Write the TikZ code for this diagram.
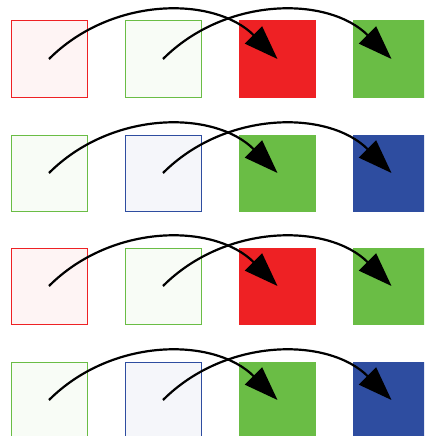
\documentclass[tikz,border=0pt]{standalone}
\usetikzlibrary{arrows.meta}
\definecolor{cred}{HTML}{EE2124}
\definecolor{cgreen}{HTML}{6ABD45}
\definecolor{cblue}{HTML}{2E4DA0}
\tikzset{
  box/.style={minimum size=76pt,inner sep=0pt,line width=1pt,draw=#1,fill=#1!5},
  solidbox/.style={minimum size=77pt,inner sep=0pt,fill=#1},
  jump/.style={line width=2.2pt,bend left=45,-{Triangle[length=34pt,width=24pt]}},
}
\begin{document}
\begin{tikzpicture}[x=1pt,y=-1pt]
\useasboundingbox (0,0) rectangle (424,436);
\clip (0,0) rectangle (424,436);
% row 1
\node[box=cred] (a1) at (49,59) {};
\node[box=cgreen] (b1) at (163,59) {};
\node[solidbox=cred] (c1) at (277.5,59) {};
\node[solidbox=cgreen] (d1) at (391.5,59) {};
% row 2
\node[box=cgreen] (a2) at (49,173) {};
\node[box=cblue] (b2) at (163,173) {};
\node[solidbox=cgreen] (c2) at (277.5,173) {};
\node[solidbox=cblue] (d2) at (391.5,173) {};
% row 3
\node[box=cred] (a3) at (49,286) {};
\node[box=cgreen] (b3) at (163,286) {};
\node[solidbox=cred] (c3) at (277.5,286) {};
\node[solidbox=cgreen] (d3) at (391.5,286) {};
% row 4
\node[box=cgreen] (a4) at (49,400) {};
\node[box=cblue] (b4) at (163,400) {};
\node[solidbox=cgreen] (c4) at (277.5,400) {};
\node[solidbox=cblue] (d4) at (391.5,400) {};
\foreach \r in {1,2,3,4}{
  \draw[jump] (a\r.center) to (c\r.center);
  \draw[jump] (b\r.center) to (d\r.center);
}
\end{tikzpicture}
\end{document}
